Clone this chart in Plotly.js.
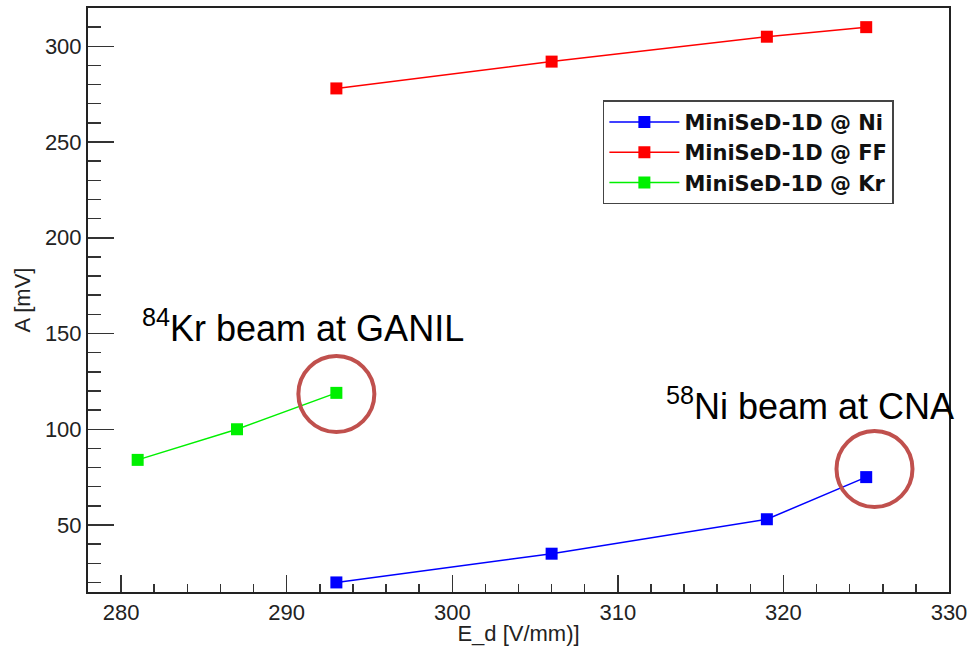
<!DOCTYPE html>
<html>
<head>
<meta charset="utf-8">
<script src="https://cdn.plot.ly/plotly-3.0.1.min.js"></script>
<style>html,body{margin:0;padding:0;background:#fff;}#chart{width:970px;height:646px;}</style>
</head>
<body>
<div id="chart"></div>
<script>
// Data
const niX = [293, 306, 319, 325];
const niY = [20, 35, 53, 75];
const ffX = [293, 306, 319, 325];
const ffY = [278, 292, 305, 310];
const krX = [281, 287, 293];
const krY = [84, 100, 119];
const seriesNames = ["MiniSeD-1D @ Ni", "MiniSeD-1D @ FF", "MiniSeD-1D @ Kr"];
const xTitle = "E_d [V/mm)]";
const yTitle = "A [mV]";
const noteKr = "<sup>84</sup>Kr beam at GANIL";
const noteNi = "<sup>58</sup>Ni beam at CNA";

const FONT = "Liberation Sans, Arial, Helvetica, sans-serif";
function tr(x, y, name, color) {
  return {
    x: x, y: y, name: name, type: "scatter", mode: "lines+markers",
    line: {color: color, width: 1.5},
    marker: {symbol: "square", size: 12, color: color}
  };
}
const data = [
  tr(niX, niY, seriesNames[0], "#0000ff"),
  tr(ffX, ffY, seriesNames[1], "#ff0000"),
  tr(krX, krY, seriesNames[2], "#00f000")
];
const axisCommon = {
  showline: true, mirror: true, linecolor: "#222", linewidth: 2,
  showgrid: false, zeroline: false, ticks: "inside", tickcolor: "#333",
  tickfont: {family: FONT, size: 22, color: "#222"}
};
const layout = {
  width: 970, height: 646,
  margin: {l: 88, r: 21, t: 8, b: 54},
  paper_bgcolor: "#fff", plot_bgcolor: "#fff",
  showlegend: true,
  legend: {
    x: 0.598, y: 0.842, xanchor: "left", yanchor: "top",
    bgcolor: "#fff", bordercolor: "#444", borderwidth: 1.5,
    font: {family: "DejaVu Sans, sans-serif", size: 21, color: "#111", weight: "bold"},
    tracegroupgap: 0, itemwidth: 70
  },
  xaxis: Object.assign({}, axisCommon, {
    range: [278, 330], tickvals: [280, 290, 300, 310, 320, 330],
    ticklen: 17, tickwidth: 1.5,
    minor: {ticks: "inside", dtick: 2, ticklen: 8, tickcolor: "#333", tickwidth: 1.5, showgrid: false},
    title: {text: xTitle, font: {family: FONT, size: 22, color: "#222"}, standoff: 4}
  }),
  yaxis: Object.assign({}, axisCommon, {
    range: [15, 320], tickvals: [50, 100, 150, 200, 250, 300],
    ticklen: 26, tickwidth: 1.5,
    minor: {ticks: "inside", dtick: 10, ticklen: 13, tickcolor: "#333", tickwidth: 1.5, showgrid: false},
    title: {text: yTitle, font: {family: FONT, size: 22, color: "#222"}, standoff: 8}
  }),
  annotations: [
    {x: 291.0, y: 154, xref: "x", yref: "y", text: noteKr, showarrow: false,
     font: {family: FONT, size: 36, color: "#000"}},
    {x: 321.6, y: 113, xref: "x", yref: "y", text: noteNi, showarrow: false,
     font: {family: FONT, size: 36, color: "#000"}}
  ],
  shapes: [
    {type: "circle", xref: "x", yref: "y", xsizemode: "pixel", ysizemode: "pixel",
     xanchor: 293.0, yanchor: 118.4, x0: -38, x1: 38, y0: -38, y1: 38,
     line: {color: "#c0504d", width: 4}},
    {type: "circle", xref: "x", yref: "y", xsizemode: "pixel", ysizemode: "pixel",
     xanchor: 325.5, yanchor: 79.2, x0: -38, x1: 38, y0: -38, y1: 38,
     line: {color: "#c0504d", width: 4}}
  ]
};
Plotly.newPlot("chart", data, layout, {staticPlot: true, displayModeBar: false});
</script>
</body>
</html>
